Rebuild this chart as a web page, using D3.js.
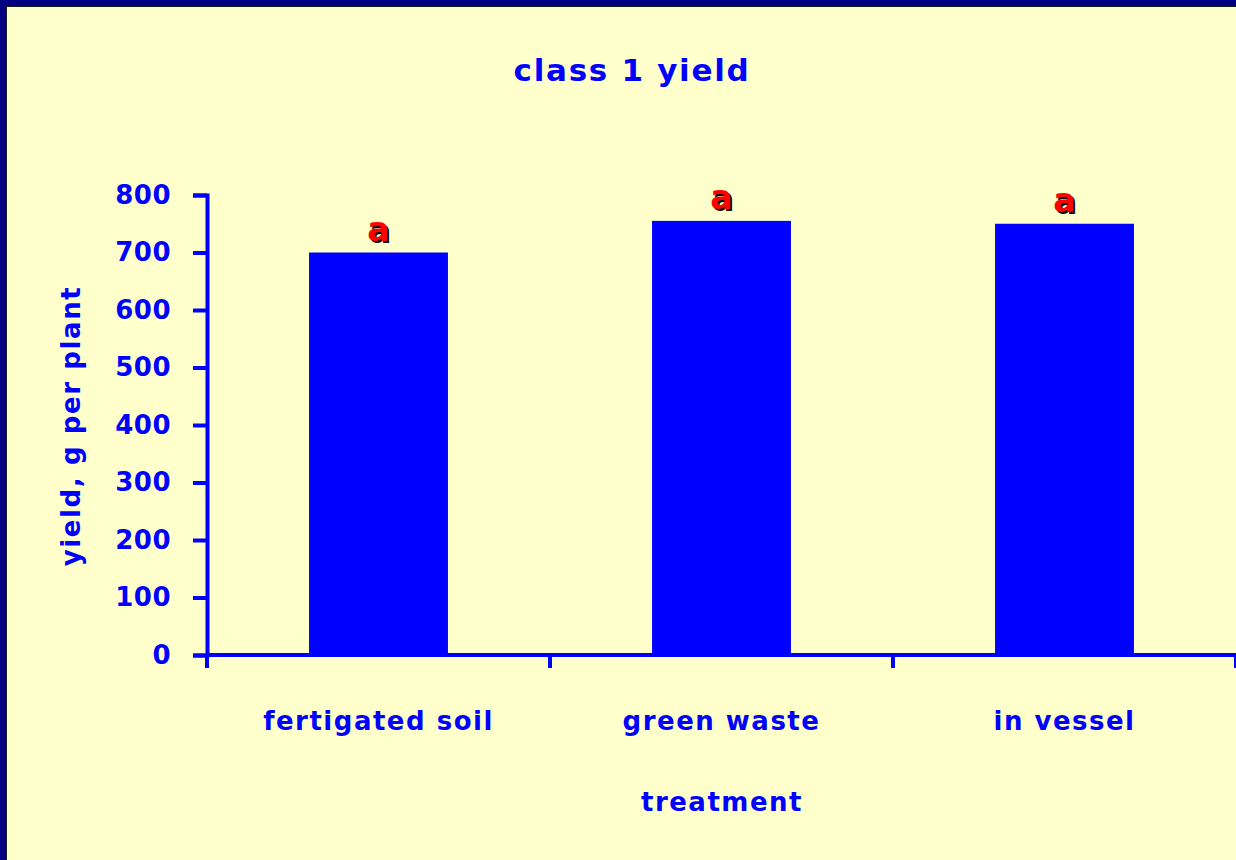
<!DOCTYPE html>
<html>
<head>
<meta charset="utf-8">
<script src="https://cdn.jsdelivr.net/npm/d3@7"></script>
<style>
  html, body { margin: 0; padding: 0; background: #000080; }
  svg { display: block; }
  text { font-family: "Comic Sans MS", "DejaVu Sans", sans-serif; font-weight: bold; }
</style>
</head>
<body>
<svg width="1236" height="860"></svg>
<script>
const categories = ['fertigated soil', 'green waste', 'in vessel'];
const yields = [700, 755, 750];
const sigLetters = ['a', 'a', 'a'];
const yTicks = [0, 100, 200, 300, 400, 500, 600, 700, 800];

const svg = d3.select('svg');
const W = 1236, H = 860;

// navy frame + pale panel
svg.append('rect').attr('width', W).attr('height', H).attr('fill', '#000080');
svg.append('rect').attr('x', 6).attr('y', 6).attr('width', W - 6).attr('height', H - 6).attr('fill', '#1a1a1a');
svg.append('rect').attr('x', 7).attr('y', 7).attr('width', W - 7).attr('height', H - 7).attr('fill', '#FFFFCC');

const x = d3.scaleBand().domain(categories).range([207, 1236]).paddingInner(0.595).paddingOuter(0.2975);
const y = d3.scaleLinear().domain([0, 800]).range([655, 195]);

// title
svg.append('text')
  .attr('x', 632).attr('y', 81)
  .attr('text-anchor', 'middle')
  .attr('font-size', 31)
  .attr('letter-spacing', 1.7)
  .attr('fill', '#0000FF')
  .text('class 1 yield');

// bars
svg.append('g').selectAll('rect')
  .data(yields)
  .enter().append('rect')
  .attr('x', (d, i) => x(categories[i]))
  .attr('width', x.bandwidth())
  .attr('y', d => y(d))
  .attr('height', d => y(0) - y(d))
  .attr('fill', '#0000FF');

// y axis
const yAxis = svg.append('g')
  .attr('transform', 'translate(207,0)')
  .call(d3.axisLeft(y).tickValues(yTicks).tickSize(14).tickPadding(22));
yAxis.select('.domain').attr('stroke', '#0000FF').attr('stroke-width', 4);
yAxis.selectAll('.tick line').attr('stroke', '#0000FF').attr('stroke-width', 4);
yAxis.selectAll('.tick text')
  .attr('fill', '#0000FF')
  .attr('font-size', 26)
  .attr('letter-spacing', 0.5)
  .attr('font-family', '"Comic Sans MS", "DejaVu Sans", sans-serif')
  .attr('font-weight', 'bold');

// x axis line + category dividers
const xEdge = d3.scaleLinear().domain([0, categories.length]).range([207, 1236]);
svg.append('line')
  .attr('x1', 207).attr('x2', 1236)
  .attr('y1', y(0)).attr('y2', y(0))
  .attr('stroke', '#0000FF').attr('stroke-width', 4);
svg.append('g').selectAll('line')
  .data(d3.range(categories.length + 1))
  .enter().append('line')
  .attr('x1', d => xEdge(d)).attr('x2', d => xEdge(d))
  .attr('y1', y(0)).attr('y2', y(0) + 13)
  .attr('stroke', '#0000FF').attr('stroke-width', 4);

// category labels
svg.append('g').selectAll('text')
  .data(categories)
  .enter().append('text')
  .attr('x', d => x(d) + x.bandwidth() / 2)
  .attr('y', 730)
  .attr('text-anchor', 'middle')
  .attr('font-size', 26)
  .attr('letter-spacing', 1.5)
  .attr('fill', '#0000FF')
  .text(d => d);

// axis titles
svg.append('text')
  .attr('x', 722).attr('y', 811)
  .attr('text-anchor', 'middle')
  .attr('font-size', 26)
  .attr('letter-spacing', 1.5)
  .attr('fill', '#0000FF')
  .text('treatment');

svg.append('text')
  .attr('transform', 'translate(80,426) rotate(-90)')
  .attr('text-anchor', 'middle')
  .attr('font-size', 26)
  .attr('letter-spacing', 1.6)
  .attr('fill', '#0000FF')
  .text('yield, g per plant');

// significance letters with dark shadow
const letters = svg.append('g');
letters.selectAll('text.shadow')
  .data(yields)
  .enter().append('text')
  .attr('class', 'shadow')
  .attr('x', (d, i) => x(categories[i]) + x.bandwidth() / 2 + 2)
  .attr('y', d => y(d) - 12 + 2)
  .attr('text-anchor', 'middle')
  .attr('font-size', 33)
  .attr('fill', '#000000')
  .text((d, i) => sigLetters[i]);
letters.selectAll('text.lab')
  .data(yields)
  .enter().append('text')
  .attr('class', 'lab')
  .attr('x', (d, i) => x(categories[i]) + x.bandwidth() / 2)
  .attr('y', d => y(d) - 12)
  .attr('text-anchor', 'middle')
  .attr('font-size', 33)
  .attr('fill', '#FF0000')
  .text((d, i) => sigLetters[i]);
</script>
</body>
</html>
